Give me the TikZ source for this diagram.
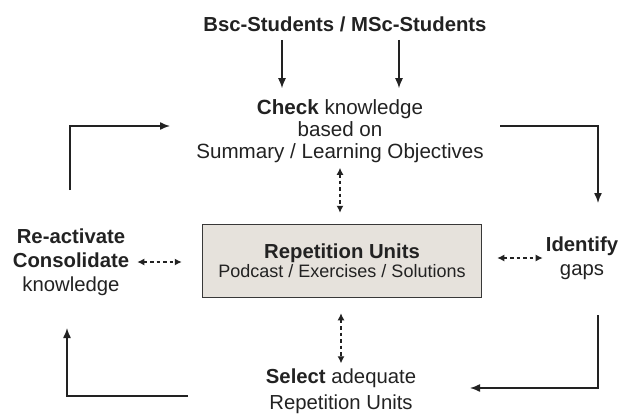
\documentclass[tikz,border=0pt]{standalone}
\usepackage{fontspec}
\setmainfont{Liberation Sans}
\usetikzlibrary{arrows.meta}

\definecolor{boxfill}{HTML}{E6E2DC}
\definecolor{ink}{HTML}{222222}

\tikzset{txt/.style = {align = center,
                       inner sep = 0pt,
                       text = ink,
                       font = \fontsize{20.3}{24}\selectfont},
         unitbox/.style = {draw = ink!90,
                           fill = boxfill,
                           line width = 1.5pt,
                           minimum width = 279pt,
                           minimum height = 73pt,
                           align = center,
                           text = ink},
         arr/.style = {-{Latex[length=10pt,width=8pt]},
                       line width = 1.4pt,
                       draw = ink},
         darr/.style = {{Latex[length=7pt,width=7pt]}-{Latex[length=7pt,width=7pt]},
                        line width = 1.3pt,
                        dash pattern = on 3.5pt off 3pt,
                        draw = ink}}

\begin{document}
\begin{tikzpicture}[x=1pt, y=-1pt]
  \useasboundingbox (0,0) rectangle (635,418);

  % nodes
  \node[txt, font=\fontsize{20.3}{22}\selectfont\bfseries] (students) at (345,24) {Bsc-Students / MSc-Students};
  \node[txt, font=\fontsize{20.6}{22}\selectfont] (check) at (340,131)
       {\textbf{Check} knowledge\\based on\\Summary / Learning Objectives};
  \node[unitbox] (units) at (342,261)
       {{\fontsize{20.3}{24}\selectfont\bfseries Repetition Units}\\[1pt]
        {\fontsize{18}{22}\selectfont Podcast / Exercises / Solutions}};
  \node[txt] (react) at (71,262) {\textbf{Re-activate}\\\textbf{Consolidate}\\knowledge};
  \node[txt] (identify) at (582,258) {\textbf{Identify}\\gaps};
  \node[txt, font=\fontsize{20.3}{26}\selectfont] (select) at (341,391) {\textbf{Select} adequate\\Repetition Units};

  % input arrows
  \draw[arr, shorten <=8pt, shorten >=11pt] (students.south -| 282,0) -- (check.north -| 282,0);
  \draw[arr, shorten <=8pt, shorten >=11pt] (students.south -| 399,0) -- (check.north -| 399,0);

  % exchange with the repetition units
  \draw[darr, shorten <=5pt, shorten >=11pt] (check.south) -- (units.north -| check.south);
  \draw[darr, shorten <=15pt, shorten >=5pt] (units.south -| select.north) -- (select.north);
  \draw[darr, shorten <=8pt, shorten >=20pt] (react.east) -- (units.west |- react.east);
  \draw[darr, shorten <=15pt, shorten >=3pt] (units.east |- identify.west) -- (identify.west);

  % cycle
  \coordinate (reUp) at (70,190);
  \coordinate (chkIn) at (170,126);
  \coordinate (chkOut) at (500,126);
  \coordinate (idIn) at (598,203);
  \coordinate (idOut) at (598,315);
  \coordinate (selIn) at (470,388);
  \coordinate (selOut) at (188,396);
  \coordinate (reIn) at (67,328);
  \draw[arr] (reUp) |- (chkIn);
  \draw[arr] (chkOut) -| (idIn);
  \draw[arr] (idOut) |- (selIn);
  \draw[arr] (selOut) -| (reIn);
\end{tikzpicture}
\end{document}
